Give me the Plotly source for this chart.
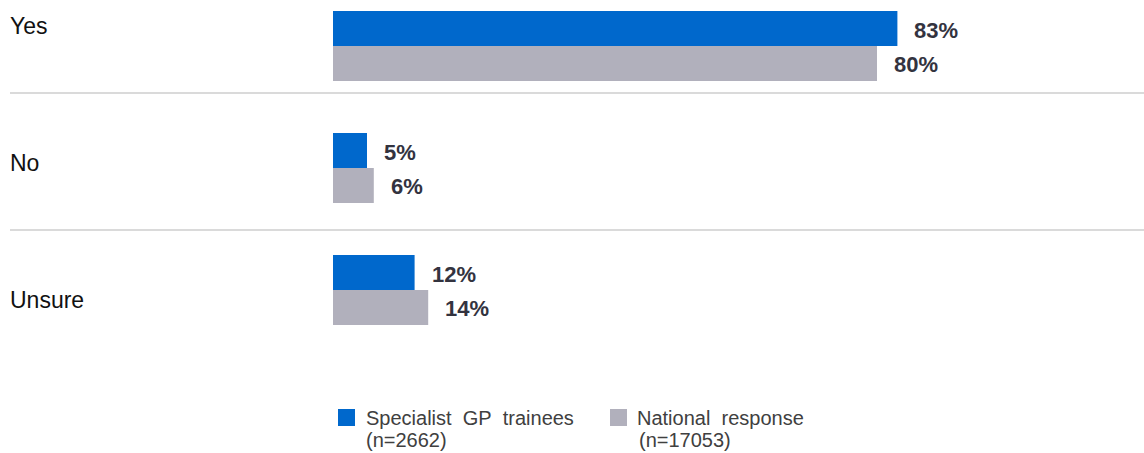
import plotly.graph_objects as go

# Survey answers and shares (%)
categories = ["Yes", "No", "Unsure"]
gp_trainees = [83, 5, 12]
national = [80, 6, 14]
series_names = ["Specialist\u00a0\u00a0GP\u00a0\u00a0trainees", "National\u00a0\u00a0response"]
series_n = ["(n=2662)", "(n=17053)"]

BLUE = "#0068CC"
GREY = "#B1B0BC"
LABEL_DARK = "#33333F"
FONT = "Liberation Sans, Arial, sans-serif"

W, H = 1144, 453
ML, MR, MT, MB = 333, 131, 0, 103
PW, PH = W - ML - MR, H - MT - MB

fig = go.Figure()
fig.add_trace(go.Bar(y=categories, x=gp_trainees, orientation="h",
                     marker=dict(color=BLUE, line=dict(width=0)),
                     name=series_names[0], showlegend=False))
fig.add_trace(go.Bar(y=categories, x=national, orientation="h",
                     marker=dict(color=GREY, line=dict(width=0)),
                     name=series_names[1], showlegend=False))

# value labels beside each bar
for vals, shift in ((gp_trainees, 16), (national, -18)):
    for cat, v in zip(categories, vals):
        fig.add_annotation(x=v, y=cat, xref="x", yref="y", text=f"<b>{v}%</b>",
                           showarrow=False, xanchor="left", yanchor="middle",
                           xshift=15, yshift=shift,
                           font=dict(family=FONT, size=22, color=LABEL_DARK))

def px_x(px):
    return (px - ML) / PW

def px_y(py):
    return 1 - (py - MT) / PH

# category labels on the left
for cat, py in zip(categories, (26, 163, 300)):
    fig.add_annotation(x=px_x(8), y=px_y(py), xref="paper", yref="paper",
                       text=cat, showarrow=False, xanchor="left", yanchor="middle",
                       font=dict(family=FONT, size=23, color="#111111"))

# separator rules between categories
for py in (93, 230):
    fig.add_shape(type="line", xref="paper", yref="paper",
                  x0=px_x(10), x1=px_x(W), y0=px_y(py), y1=px_y(py),
                  line=dict(color="#DADADA", width=2))

# legend
legend_items = [(BLUE, series_names[0], series_n[0], 338, 364, 364),
                (GREY, series_names[1], series_n[1], 610, 635, 637)]
for color, name, n, sx, tx, nx in legend_items:
    fig.add_shape(type="rect", xref="paper", yref="paper",
                  x0=px_x(sx), x1=px_x(sx + 17), y0=px_y(426), y1=px_y(409),
                  fillcolor=color, line=dict(width=0))
    fig.add_annotation(x=px_x(tx), y=px_y(418), xref="paper", yref="paper",
                       text=name, showarrow=False, xanchor="left", yanchor="middle",
                       font=dict(family=FONT, size=20, color="#404040"))
    fig.add_annotation(x=px_x(nx), y=px_y(440), xref="paper", yref="paper",
                       text=n, showarrow=False, xanchor="left", yanchor="middle",
                       font=dict(family=FONT, size=20, color="#404040"))

fig.update_layout(
    width=W, height=H,
    margin=dict(l=ML, r=MR, t=MT, b=MB),
    paper_bgcolor="white", plot_bgcolor="white",
    barmode="group", bargap=1 - 70 / 122, bargroupgap=0,
    xaxis=dict(range=[0, 100], visible=False, fixedrange=True),
    yaxis=dict(type="category", categoryorder="array", categoryarray=categories,
               range=[(350 - 46) / 122, -46 / 122], visible=False),
    showlegend=False,
)

fig.write_html("out.html")
